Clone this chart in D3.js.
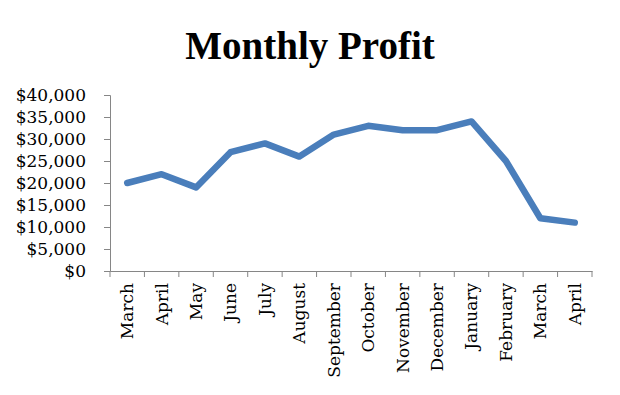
<!DOCTYPE html>
<html>
<head>
<meta charset="utf-8">
<script src="https://cdn.jsdelivr.net/npm/d3@7"></script>
<style>
  body { margin: 0; background: #fff; }
  svg text { font-family: "DejaVu Serif", serif; }
</style>
</head>
<body>
<div id="chart"></div>
<script>
// data
const months = ['March', 'April', 'May', 'June', 'July', 'August', 'September',
    'October', 'November', 'December', 'January', 'February', 'March', 'April'];
const profit = [20000, 22000, 19000, 27000, 29000, 26000, 31000,
    33000, 32000, 32000, 34000, 25000, 12000, 11000];
const yTicks = [0, 5000, 10000, 15000, 20000, 25000, 30000, 35000, 40000];

const width = 620, height = 395;
const margin = { left: 110, right: 28, top: 95, bottom: 124 };

const svg = d3.select('#chart')
    .append('svg')
    .attr('width', width)
    .attr('height', height);

// title
svg.append('text')
    .attr('x', 310)
    .attr('y', 59)
    .attr('text-anchor', 'middle')
    .style('font-family', '"Liberation Serif", serif')
    .style('font-size', '39px')
    .style('font-weight', 'bold')
    .text('Monthly Profit');

// index based band scale so the repeated month names stay separate
const x = d3.scaleBand()
    .domain(d3.range(months.length))
    .range([margin.left, width - margin.right]);

const y = d3.scaleLinear()
    .domain([0, 40000])
    .range([height - margin.bottom, margin.top]);

const axisColor = '#868686';

// y axis
const yAxis = svg.append('g')
    .attr('transform', `translate(${margin.left},0)`)
    .call(d3.axisLeft(y).tickValues(yTicks).tickSize(6).tickPadding(18)
        .tickFormat(d => '$' + d3.format(',')(d)));
yAxis.selectAll('path, line').attr('stroke', axisColor);
yAxis.selectAll('text').style('font-size', '17px').attr('fill', '#000');

// x axis, ticks sit between the categories
const xAxis = svg.append('g')
    .attr('transform', `translate(0,${height - margin.bottom})`)
    .call(d3.axisBottom(x).tickSize(0).tickFormat(i => months[i]));
xAxis.select('.domain').attr('stroke', axisColor);
xAxis.selectAll('.tick text')
    .style('font-size', '17px')
    .attr('fill', '#000')
    .attr('text-anchor', 'end')
    .attr('transform', 'rotate(-90)')
    .attr('x', -12)
    .attr('y', 0)
    .attr('dy', '0.35em');

// tick marks at band edges
xAxis.selectAll('.edge')
    .data(d3.range(months.length + 1))
    .enter().append('line')
    .attr('class', 'edge')
    .attr('x1', i => margin.left + i * x.step())
    .attr('x2', i => margin.left + i * x.step())
    .attr('y1', 0)
    .attr('y2', 6)
    .attr('stroke', axisColor);

// the line
const line = d3.line()
    .x((d, i) => x(i) + x.bandwidth() / 2)
    .y(d => y(d));

svg.append('path')
    .datum(profit)
    .attr('d', line)
    .attr('fill', 'none')
    .attr('stroke', '#4a7ebb')
    .attr('stroke-width', 6.5)
    .attr('stroke-linejoin', 'round')
    .attr('stroke-linecap', 'round');
</script>
</body>
</html>
